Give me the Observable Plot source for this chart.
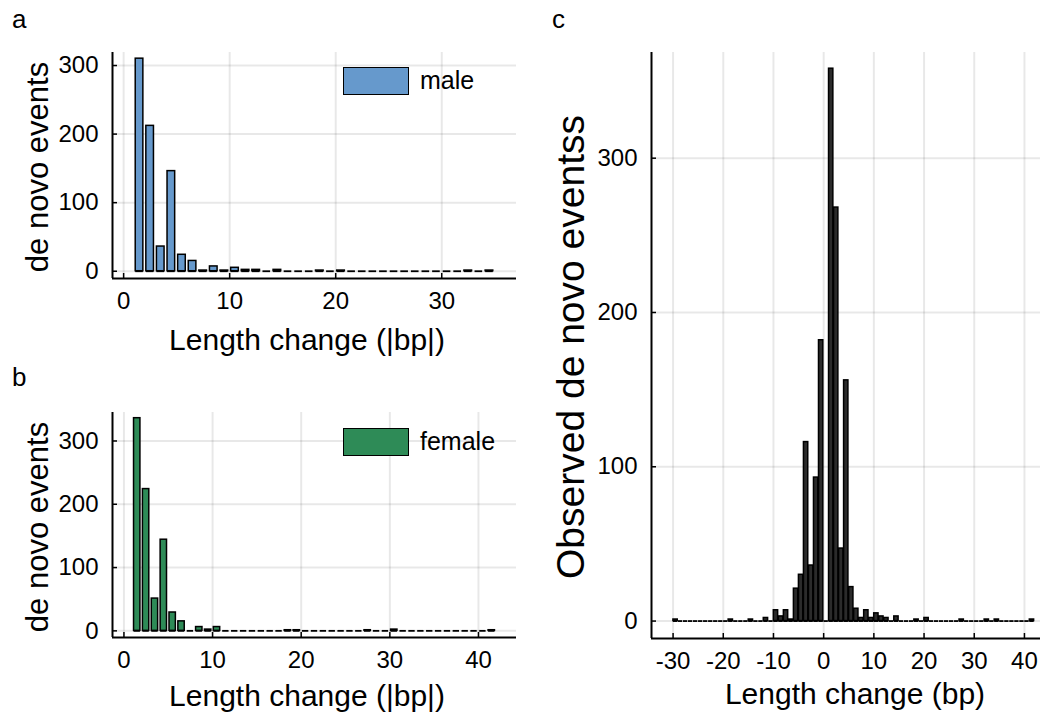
<!DOCTYPE html>
<html><head><meta charset="utf-8">
<script src="https://cdn.jsdelivr.net/npm/d3@7"></script>
<script src="https://cdn.jsdelivr.net/npm/@observablehq/plot@0.6"></script>
<style>
body{margin:0;background:#fff;font-family:"Liberation Sans",Arial,sans-serif;}
#root{position:relative;width:1046px;height:715px;overflow:hidden;background:#fff;}
.plot{position:absolute;}
.t{position:absolute;white-space:nowrap;color:#000;line-height:1;}
.lab{font-size:30px;transform:translate(-50%,-50%);}
.vlab{font-size:31px;transform:translate(-50%,-50%) rotate(-90deg);}
.vlabc{font-size:39px;transform:translate(-50%,-50%) rotate(-90deg);}
.letter{font-size:26px;}
.legbox{position:absolute;box-sizing:border-box;border:1.6px solid #000;}
.legtxt{font-size:25px;transform:translateY(-50%);}
</style></head><body><div id="root"></div>
<script>
// Panel a: male, |length change| (bp) and count of de novo events
const maleLength = [1,2,3,4,5,6,7,8,9,10,11,12,13,14,15,16,17,18,19,20,21,22,23,24,25,26,27,28,29,30,31,32,33,34];
const maleCount  = [310,212,36,146,24,15,1,7,1,5,2,2,0,2,0,0,0,1,0,1,0,0,0,0,0,0,0,0,0,0,0,1,0,1];
// Panel b: female
const femaleLength = [1,2,3,4,5,6,7,8,9,10,11,12,13,14,15,16,17,18,19,20,21,22,23,24,25,26,27,28,29,30,31,32,33,34,35,36,37,38,39,40,41];
const femaleCount  = [336,224,51,144,29,15,0,6,2,6,0,0,0,0,0,0,0,1,1,0,0,0,0,0,0,0,1,0,0,2,0,0,0,0,0,0,0,0,0,0,1];
// Panel c: signed length change (bp)
const changeLength = [-30,-29,-28,-27,-26,-25,-24,-23,-22,-21,-20,-19,-18,-17,-16,-15,-14,-13,-12,-11,-10,-9,-8,-7,-6,-5,-4,-3,-2,-1,0,1,2,3,4,5,6,7,8,9,10,11,12,13,14,15,16,17,18,19,20,21,22,23,24,25,26,27,28,29,30,31,32,33,34,35,36,37,38,39,40,41];
const changeCount  = [1,0,0,0,0,0,0,0,0,0,0,1,0,0,0,1,0,0,2,0,7,3,7,1,21,30,116,36,93,182,0,358,268,47,156,22,8,2,7,2,5,3,2,0,3,0,0,0,1,0,2,0,0,0,0,0,0,1,0,0,0,0,1,0,1,0,0,0,0,0,0,1];

const xTicksA = [0,10,20,30];
const xTicksB = [0,10,20,30,40];
const xTicksC = [-30,-20,-10,0,10,20,30,40];
const yTicks = [0,100,200,300];

const labels = {
  a: "a", b: "b", c: "c",
  xAbs: "Length change (|bp|)", xSigned: "Length change (bp)",
  yAB: "de novo events", yC: "Observed de novo eventss",
  male: "male", female: "female"
};
const colors = {male: "#6699cc", female: "#2e8b57", all: "#2b2b2b"};

const FONT = '"Liberation Sans", Arial, sans-serif';
const root = document.getElementById("root");

function panel({lengths, counts, fill, barW, width, height, left, top, mL, mR, mT, mB, xDomain, yDomain, xTicks}) {
  const data = lengths.map((v, i) => ({v, c: counts[i]}));
  const grid = {stroke: "#000", strokeOpacity: 0.09, strokeWidth: 2};
  const chart = Plot.plot({
    width, height, marginLeft: mL, marginRight: mR, marginTop: mT, marginBottom: mB,
    x: {domain: xDomain, label: null},
    y: {domain: yDomain, label: null},
    style: {fontFamily: FONT, fontSize: "24px", background: "transparent", color: "#000", overflow: "visible"},
    marks: [
      Plot.gridX(xTicks, grid),
      Plot.gridY(yTicks, grid),
      Plot.ruleY(data, {y: 0, x1: d => d.v + 0.5 - barW / 2, x2: d => d.v + 0.5 + barW / 2, stroke: "#000", strokeWidth: 1.8}),
      Plot.rectY(data.filter(d => d.c > 0), {x1: d => d.v + 0.5 - barW / 2, x2: d => d.v + 0.5 + barW / 2, y1: 0, y2: "c", fill, stroke: "#000", strokeWidth: 1.5}),
      Plot.ruleX([xDomain[0]], {stroke: "#000", strokeWidth: 2}),
      Plot.ruleY([yDomain[0]], {stroke: "#000", strokeWidth: 2}),
      Plot.axisX(xTicks, {tickSize: -5, tickPadding: 18, tickFormat: d => String(d), strokeWidth: 1.5}),
      Plot.axisY(yTicks, {tickSize: -5, tickPadding: 19, tickFormat: d => String(d), strokeWidth: 1.5})
    ]
  });
  chart.classList.add("plot");
  chart.style.left = left + "px";
  chart.style.top = top + "px";
  root.appendChild(chart);
}

function text(str, cls, x, y) {
  const el = document.createElement("div");
  el.className = "t " + cls;
  el.textContent = str;
  el.style.left = x + "px";
  el.style.top = y + "px";
  root.appendChild(el);
}
function legend(fill, str, x, y) {
  const b = document.createElement("div");
  b.className = "legbox";
  b.style.left = x + "px"; b.style.top = y + "px";
  b.style.width = "66px"; b.style.height = "28px";
  b.style.background = fill;
  root.appendChild(b);
  text(str, "legtxt", x + 77, y + 13);
}

panel({lengths: maleLength, counts: maleCount, fill: colors.male, barW: 0.72,
  width: 540, height: 360, left: 0, top: 0, mL: 112, mR: 24, mT: 52, mB: 82,
  xDomain: [-1.05, 37.05], yDomain: [-10.6, 319], xTicks: xTicksA});
panel({lengths: femaleLength, counts: femaleCount, fill: colors.female, barW: 0.72,
  width: 540, height: 355, left: 0, top: 360, mL: 112, mR: 24, mT: 52, mB: 78,
  xDomain: [-1.29, 44.29], yDomain: [-10.5, 345], xTicks: xTicksB});
panel({lengths: changeLength, counts: changeCount, fill: colors.all, barW: 0.86,
  width: 506, height: 715, left: 540, top: 0, mL: 111, mR: 6, mT: 52, mB: 77,
  xDomain: [-34.3, 43.2], yDomain: [-11.3, 368.5], xTicks: xTicksC});

text(labels.a, "letter", 12, 6);
text(labels.b, "letter", 12, 364);
text(labels.c, "letter", 552, 6);

text(labels.xAbs, "lab", 307, 340);
text(labels.xAbs, "lab", 307, 696);
text(labels.xSigned, "lab", 855, 694);
text(labels.yAB, "vlab", 37, 167);
text(labels.yAB, "vlab", 37, 527);
text(labels.yC, "vlabc", 570, 347);

legend(colors.male, labels.male, 343, 67);
legend(colors.female, labels.female, 343, 428);
</script>
</body></html>
